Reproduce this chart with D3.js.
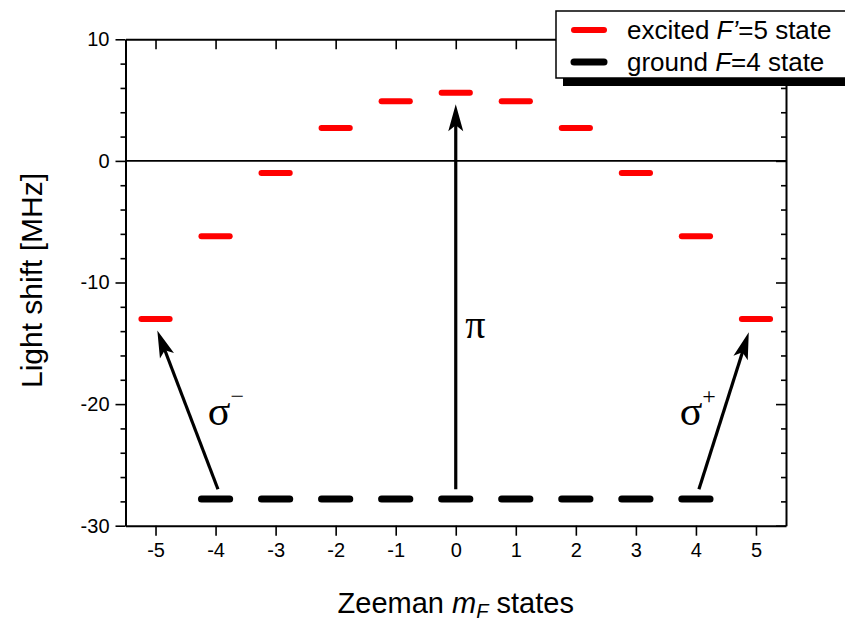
<!DOCTYPE html>
<html><head><meta charset="utf-8">
<script src="https://cdn.jsdelivr.net/npm/d3@7"></script>
<style>body{margin:0;background:#fff}svg{display:block}</style>
</head><body>
<svg id="c" width="845" height="621"></svg>
<script>
// ---- data ----
const excitedStates = [-5,-4,-3,-2,-1,0,1,2,3,4,5];
const excitedShift  = [-13.0,-6.2,-1.0,2.7,4.9,5.6,4.9,2.7,-1.0,-6.2,-13.0];
const groundStates  = [-4,-3,-2,-1,0,1,2,3,4];
const groundShift   = [-27.8,-27.8,-27.8,-27.8,-27.8,-27.8,-27.8,-27.8,-27.8];
const xTickValues   = [-5,-4,-3,-2,-1,0,1,2,3,4,5];
const yTickValues   = [-30,-20,-10,0,10];
const arrowNames    = ["σ−","π","σ+"];
const arrowTailX    = [-3.96, 0, 4.05];
const arrowTailY    = [-27.0, -27.0, -27.0];
const arrowTipX     = [-4.97, 0, 4.88];
const arrowTipY     = [-13.95, 4.65, -14.1];
const legendLabels  = ["excited", "ground"];

// ---- layout ----
const svg = d3.select("#c");
const L = 125.5, R = 786, T = 39.3, B = 525.7;
const x = d3.scaleLinear().domain([-5.5,5.5]).range([L,R]);
const y = d3.scaleLinear().domain([-30,10]).range([B,T]);
const font = "'Liberation Sans', Arial, Helvetica, sans-serif";
const serif = "'Liberation Serif', 'Times New Roman', serif";
const fmt = d => String(d);

// zero line
svg.append("line").attr("x1",L).attr("x2",R).attr("y1",y(0)).attr("y2",y(0))
  .attr("stroke","#000").attr("stroke-width",1.8);

// axes
function styleAxis(g){
  g.selectAll(".domain").attr("stroke","#000").attr("stroke-width",2);
  g.selectAll(".tick line").attr("stroke","#000").attr("stroke-width",1.6);
  g.selectAll("text").attr("font-family",font).attr("font-size",20).attr("fill","#000");
}
const minorY = d3.range(-30,11,2).filter(v=>v%10!==0);
svg.append("g").attr("transform",`translate(0,${B})`)
  .call(d3.axisBottom(x).tickValues(xTickValues).tickSize(10).tickSizeOuter(0).tickPadding(7).tickFormat(fmt))
  .call(styleAxis);
svg.append("g").attr("transform",`translate(0,${T})`)
  .call(d3.axisBottom(x).tickValues(xTickValues).tickSize(10).tickSizeOuter(0).tickFormat(""))
  .call(styleAxis);
svg.append("g").attr("transform",`translate(${L},0)`)
  .call(d3.axisLeft(y).tickValues(yTickValues).tickSize(10).tickSizeOuter(0).tickPadding(6).tickFormat(fmt))
  .call(styleAxis);
svg.append("g").attr("transform",`translate(${L},0)`)
  .call(d3.axisLeft(y).tickValues(minorY).tickSize(5).tickSizeOuter(0).tickFormat(""))
  .call(g=>g.select(".domain").remove()).call(styleAxis);
svg.append("g").attr("transform",`translate(${R},0)`)
  .call(d3.axisLeft(y).tickValues(yTickValues).tickSize(10).tickSizeOuter(0).tickFormat(""))
  .call(styleAxis);
svg.append("g").attr("transform",`translate(${R},0)`)
  .call(d3.axisLeft(y).tickValues(minorY).tickSize(5).tickSizeOuter(0).tickFormat(""))
  .call(g=>g.select(".domain").remove()).call(styleAxis);

// levels
const halfW = 0.235;
svg.append("g").selectAll("line").data(excitedStates).join("line")
  .attr("x1",(d)=>x(d-halfW)).attr("x2",(d)=>x(d+halfW))
  .attr("y1",(d,i)=>y(excitedShift[i])).attr("y2",(d,i)=>y(excitedShift[i]))
  .attr("stroke","#ff0000").attr("stroke-width",6).attr("stroke-linecap","round");
svg.append("g").selectAll("line").data(groundStates).join("line")
  .attr("x1",(d)=>x(d-halfW)).attr("x2",(d)=>x(d+halfW))
  .attr("y1",(d,i)=>y(groundShift[i])).attr("y2",(d,i)=>y(groundShift[i]))
  .attr("stroke","#000").attr("stroke-width",7).attr("stroke-linecap","round");

// arrows
const headLen = 27, headHalf = 7.5, notch = 6;
arrowNames.forEach((n,i)=>{
  const x0 = x(arrowTailX[i]), y0 = y(arrowTailY[i]);
  const x1 = x(arrowTipX[i]),  y1 = y(arrowTipY[i]);
  const dx = x1-x0, dy = y1-y0, len = Math.hypot(dx,dy);
  const ux = dx/len, uy = dy/len, px = -uy, py = ux;
  const bx = x1 - ux*(headLen-notch), by = y1 - uy*(headLen-notch);
  svg.append("line").attr("x1",x0).attr("y1",y0).attr("x2",bx+ux*2).attr("y2",by+uy*2)
    .attr("stroke","#000").attr("stroke-width",3.2);
  const p = [
    [x1,y1],
    [x1-ux*headLen+px*headHalf, y1-uy*headLen+py*headHalf],
    [bx,by],
    [x1-ux*headLen-px*headHalf, y1-uy*headLen-py*headHalf]
  ];
  svg.append("path").attr("d","M"+p.map(q=>q.join(",")).join("L")+"Z").attr("fill","#000");
});

// transition labels
function sigma(xp, yp, sup){
  const t = svg.append("text").attr("x",xp).attr("y",yp).attr("font-family",serif).attr("font-size",42).attr("fill","#000");
  t.append("tspan").text("σ");
  t.append("tspan").attr("dy",-21).attr("font-size",24).text(sup);
}
sigma(x(-4.13), y(-21.7), "−");
sigma(x(3.73), y(-21.7), "+");
svg.append("text").attr("x",x(0.16)).attr("y",y(-14.6)).attr("font-family",serif).attr("font-size",40).attr("fill","#000").text("π");

// axis titles
svg.append("text").attr("transform",`translate(42,${(T+B)/2 - 2}) rotate(-90)`).attr("text-anchor","middle")
  .attr("font-family",font).attr("font-size",30).attr("fill","#000").text("Light shift [MHz]");
const xt = svg.append("text").attr("x",(L+R)/2).attr("y",613).attr("text-anchor","middle")
  .attr("font-family",font).attr("font-size",29).attr("fill","#000");
xt.append("tspan").text("Zeeman ");
xt.append("tspan").attr("font-style","italic").text("m");
xt.append("tspan").attr("font-style","italic").attr("font-size",20).attr("dy",5).text("F");
xt.append("tspan").attr("dy",-5).text(" states");

// legend
const lg = svg.append("g");
lg.append("rect").attr("x",563).attr("y",78).attr("width",300).attr("height",8).attr("fill","#000");
lg.append("rect").attr("x",556).attr("y",11).attr("width",300).attr("height",67)
  .attr("fill","#fff").attr("stroke","#000").attr("stroke-width",1.5);
const legendColors = ["#ff0000","#000"];
legendLabels.forEach((lab,i)=>{
  const yy = 30 + i*32;
  lg.append("line").attr("x1",574).attr("x2",604).attr("y1",yy).attr("y2",yy)
    .attr("stroke",legendColors[i]).attr("stroke-width",i?7:6).attr("stroke-linecap","round");
  const t = lg.append("text").attr("x",627).attr("y",yy+9).attr("font-family",font).attr("font-size",26).attr("fill","#000");
  t.append("tspan").text(lab+" ");
  t.append("tspan").attr("font-style","italic").text(i===0?"F’":"F");
  t.append("tspan").text(i===0?"=5 state":"=4 state");
});
</script>
</body></html>
